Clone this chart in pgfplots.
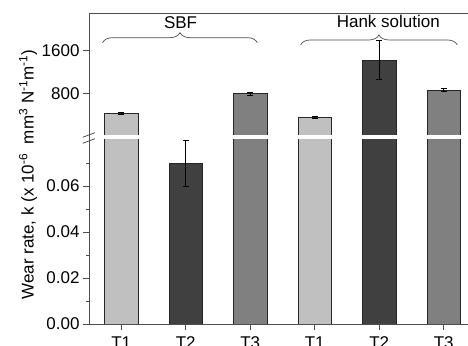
\documentclass[border=0pt]{standalone}
\usepackage{pgfplots}
\pgfplotsset{compat=1.18}
\usepackage{fontspec}
\setmainfont{Liberation Sans}
\usetikzlibrary{decorations.pathreplacing}
\definecolor{cLight}{HTML}{C0C0C0}
\definecolor{cDark}{HTML}{404040}
\definecolor{cMid}{HTML}{808080}
\definecolor{axc}{HTML}{4D4D4D}
\begin{document}
\begin{tikzpicture}
\useasboundingbox (0pt,0pt) rectangle (468pt,345pt);
\clip (0pt,0pt) rectangle (468pt,345pt);
\pgfplotsset{
  common/.style={
    scale only axis, width=387pt, xmin=0.5, xmax=6.5,
    anchor=south west,
    axis on top,
    axis line style={axc, line width=1pt},
    tick style={axc, line width=0.8pt},
    major tick length=6pt, minor tick length=3pt,
    xtick align=inside, ytick align=outside,
    ybar, bar width=33.4pt,
    scaled y ticks=false,
    tick label style={font=\fontsize{17}{20}\selectfont},
    /pgf/number format/assume math mode=true,
    /pgf/number format/1000 sep={},
    every axis plot/.append style={bar shift=0pt, draw=black!85, line width=0.8pt},
    error bars/error bar style={black, line width=0.8pt},
    error bars/error mark options={rotate=90, mark size=3pt, black, line width=0.8pt},
  }
}
% lower part
\begin{axis}[common, at={(89pt,21pt)}, height=184pt, ymin=0, ymax=0.08,
  axis x line*=bottom, axis y line*=left,
  restrict y to domain*=0:0.1,
  xtick={1,2,3,4,5,6}, xticklabels={T1,T2,T3,T1,T2,T3},
  x tick label style={yshift=-3pt},
  ytick={0,0.02,0.04,0.06}, minor ytick={0.01,0.03,0.05,0.07},
  yticklabel style={/pgf/number format/fixed, /pgf/number format/fixed zerofill, /pgf/number format/precision=2},
]
\addplot[fill=cLight] coordinates {(1,426) (4,351)};
\addplot[fill=cDark] coordinates {(5,1427)};
\addplot[fill=cDark, error bars/.cd, y dir=both, y explicit] coordinates {(2,0.07) +- (0,0.01)};
\addplot[fill=cMid] coordinates {(3,800) (6,864)};
\end{axis}
% upper part
\begin{axis}[common, at={(89pt,210pt)}, height=121pt, ymin=20, ymax=2290,
  axis x line*=top, axis y line*=left, xtick=\empty,
  ytick={800,1600},
]
\addplot[fill=cLight, error bars/.cd, y dir=both, y explicit] coordinates {(1,426) +- (0,25) (4,351) +- (0,15)};
\addplot[fill=cDark, error bars/.cd, y dir=both, y explicit] coordinates {(5,1427) +- (0,362)};
\addplot[fill=cMid, error bars/.cd, y dir=both, y explicit] coordinates {(3,800) +- (0,28) (6,864) +- (0,22)};
\draw[axc, line width=0.7pt, decorate, decoration={brace, amplitude=10pt}] (axis cs:0.71,1752) -- (axis cs:3.11,1752);
\draw[axc, line width=0.7pt, decorate, decoration={brace, amplitude=10pt}] (axis cs:3.78,1709) -- (axis cs:6.21,1709);
\node[anchor=base, font=\fontsize{17}{20}\selectfont] at (axis cs:1.92,2027) {SBF};
\node[anchor=base, font=\fontsize{17}{20}\selectfont] at (axis cs:5.14,2046) {Hank solution};
\end{axis}
% axis break
\draw[axc, line width=1pt] (89pt,204pt) -- (89pt,211pt);
\draw[axc, line width=0.8pt] (82.7pt,207.7pt) -- (95pt,212.3pt);
\draw[axc, line width=0.8pt] (82.7pt,201.7pt) -- (95pt,206.3pt);
\node[rotate=90, font=\fontsize{17}{20}\selectfont] at (28pt,170.5pt) {Wear rate, k (x 10\textsuperscript{-6}\ \ mm\textsuperscript{3} N\textsuperscript{-1}m\textsuperscript{-1})};
\end{tikzpicture}
\end{document}
